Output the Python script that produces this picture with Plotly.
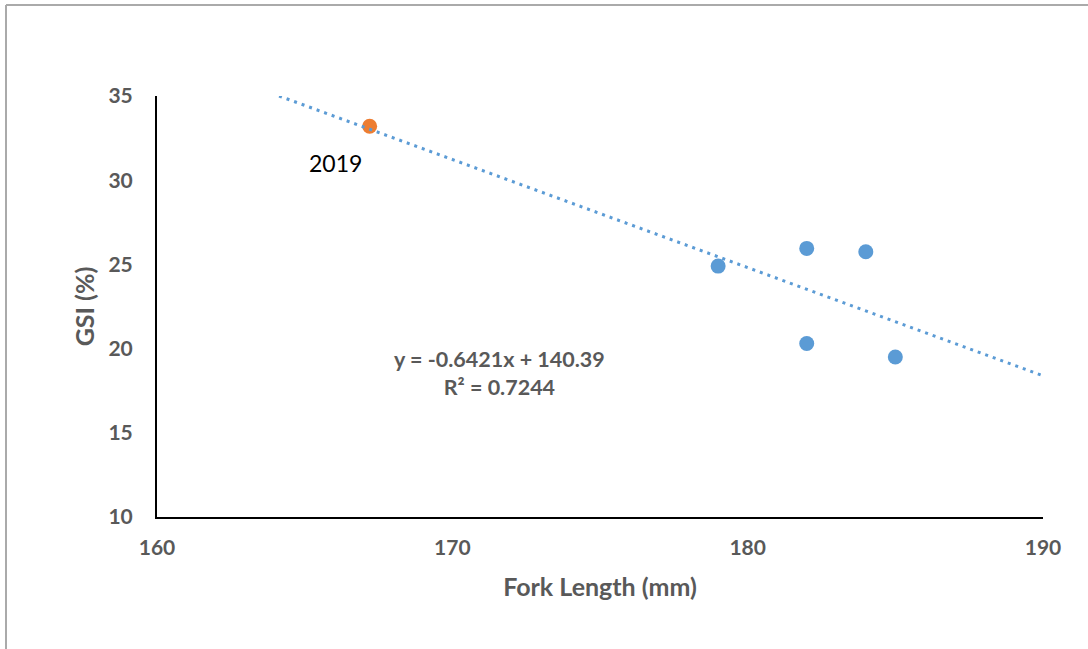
import plotly.graph_objects as go
import numpy as np

# Data
fork_length = [179, 182, 184, 182, 185]
gsi = [24.9, 25.95, 25.75, 20.3, 19.5]
fork_length_2019 = [167.2]
gsi_2019 = [33.2]
label_2019 = "2019"
slope = -0.6421
intercept = 140.39
r_squared = 0.7244
x_ticks = [160, 170, 180, 190]
y_ticks = [10, 15, 20, 25, 30, 35]

W, H = 1088, 649
L, R, T, B = 157, 45, 96, 132
pw, ph = W - L - R, H - T - B

blue = "#5b9bd5"
orange = "#ed7d31"
gray = "#595959"
font_family = "Lato, 'Open Sans', sans-serif"

fig = go.Figure()
fig.add_trace(go.Scatter(x=fork_length, y=gsi, mode="markers",
                         marker=dict(color=blue, size=15), showlegend=False))
fig.add_trace(go.Scatter(x=fork_length_2019, y=gsi_2019, mode="markers",
                         marker=dict(color=orange, size=15), showlegend=False))

y_max = max(y_ticks)
x_max = max(x_ticks)
tx = np.array([(y_max - intercept) / slope, x_max])
ty = slope * tx + intercept
fig.add_trace(go.Scatter(x=tx, y=ty, mode="lines",
                         line=dict(color=blue, width=3, dash="3px,5px"),
                         showlegend=False, hoverinfo="skip"))

fig.add_annotation(x=166.05, y=31.0, text=label_2019, showarrow=False,
                   font=dict(family=font_family, size=23, color="#000000"))
fig.add_annotation(x=171.6, y=18.55,
                   text=f"<b>y = {slope}x + {intercept}<br>R² = {r_squared}</b>",
                   showarrow=False, align="center",
                   font=dict(family=font_family, size=21.5, color=gray))

def px_x(p):
    return (p - L) / pw

def px_y(p):
    return (H - B - p) / ph

fig.add_shape(type="line", xref="paper", yref="paper",
              x0=px_x(6), x1=px_x(6), y0=px_y(5), y1=px_y(H + 5),
              line=dict(color="#aaaaaa", width=2))
fig.add_shape(type="line", xref="paper", yref="paper",
              x0=px_x(6), x1=px_x(W + 5), y0=px_y(5), y1=px_y(5),
              line=dict(color="#aaaaaa", width=2))

fig.update_layout(
    width=W, height=H,
    margin=dict(l=L, r=R, t=T, b=B, pad=0),
    plot_bgcolor="white", paper_bgcolor="white",
    font=dict(family=font_family, color=gray),
    xaxis=dict(range=[min(x_ticks), max(x_ticks)], tickvals=x_ticks,
               showgrid=False, zeroline=False, showline=True,
               linecolor="#000000", linewidth=2, ticks="",
               tickfont=dict(family=font_family, size=21, color=gray, weight="bold"),
               ticklabelstandoff=11,
               title=dict(text="<b>Fork Length (mm)</b>", standoff=20,
                          font=dict(family=font_family, size=25, color=gray))),
    yaxis=dict(range=[min(y_ticks), max(y_ticks)], tickvals=y_ticks,
               showgrid=False, zeroline=False, showline=True,
               linecolor="#000000", linewidth=2, ticks="",
               tickfont=dict(family=font_family, size=21, color=gray, weight="bold"),
               ticklabelstandoff=18,
               title=dict(text="<b>GSI (%)</b>", standoff=7,
                          font=dict(family=font_family, size=25, color=gray))),
)

fig.write_html("out.html", config={"displayModeBar": False},
               post_script="document.body.style.margin='0px';")
